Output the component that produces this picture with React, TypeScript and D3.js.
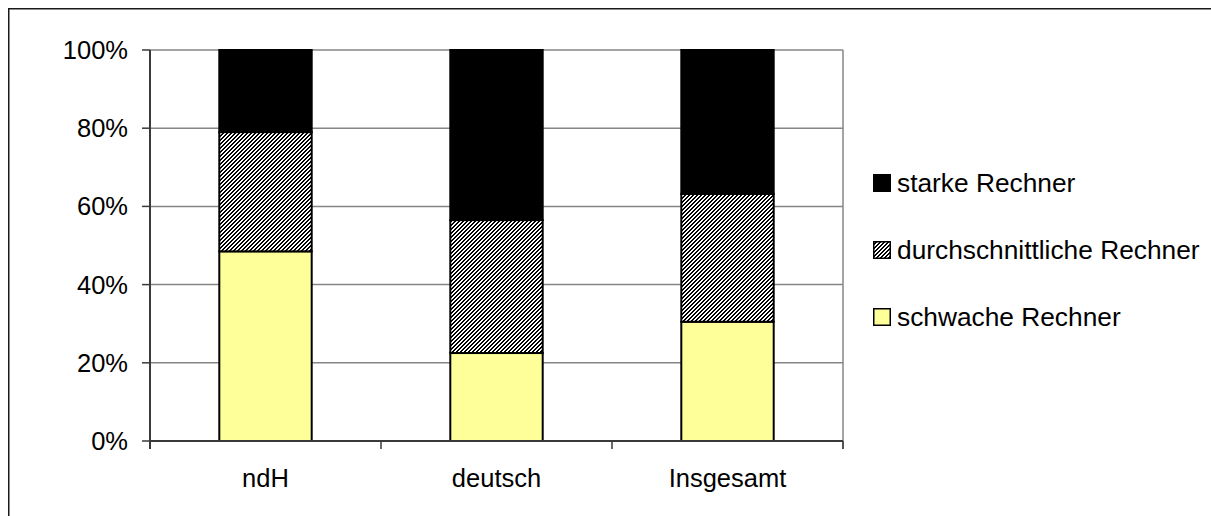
import React from "react";
import * as d3 from "d3";

const categories = ["ndH", "deutsch", "Insgesamt"];
const schwach = [48.5, 22.5, 30.5];
const durchschnitt = [30.5, 34.0, 32.7];
const stark = [21.0, 43.5, 36.8];
const yTicks = [0, 20, 40, 60, 80, 100];
const seriesNames = ["schwache Rechner", "durchschnittliche Rechner", "starke Rechner"];

const W = 1211;
const H = 516;
const FONT = "'Liberation Sans', Arial, sans-serif";

// 4x4 upward-diagonal hatch bitmap
const hatchPixels: [number, number][] = [];
for (let r = 0; r < 4; r++) {
  hatchPixels.push([(3 - r + 4) % 4, r]);
  hatchPixels.push([(4 - r + 4) % 4, r]);
}

export default function App() {
  const left = 150, right = 843, top = 50, bottom = 441;
  const x = d3.scaleBand<string>().domain(categories).range([left, right]).paddingInner(0.6).paddingOuter(0.3);
  const xb = d3.scaleBand<string>().domain(categories).range([left, right]);
  const y = d3.scaleLinear().domain([0, 100]).range([bottom, top]);

  const rows = categories.map((c, i) => ({ cat: c, schwach: schwach[i], durch: durchschnitt[i], stark: stark[i] }));
  const stack = d3.stack<any>().keys(["schwach", "durch", "stark"])(rows);
  const fills = ["#FFFF99", "url(#hatch)", "#000000"];

  const legendOrder = [2, 1, 0];

  return (
    <svg width={W} height={H} style={{ position: "absolute", left: 0, top: 0, display: "block" }}>
      <defs>
        <pattern id="hatch" patternUnits="userSpaceOnUse" width={4} height={4}>
          <rect width={4} height={4} fill="#fff" />
          {hatchPixels.map(([px, py], i) => (
            <rect key={i} x={px} y={py} width={1} height={1} fill="#000" shapeRendering="crispEdges" />
          ))}
        </pattern>
      </defs>
      <rect x={0} y={0} width={W} height={H} fill="#fff" />
      <rect x={8.75} y={8.75} width={W + 20} height={H + 20} fill="none" stroke="#1a1a1a" strokeWidth={1.5} />

      {/* gridlines */}
      {yTicks.map((t) => (
        <line key={"g" + t} x1={left} x2={right} y1={y(t)} y2={y(t)} stroke="#868686" strokeWidth={1.5} />
      ))}
      <line x1={right} x2={right} y1={top} y2={bottom + 8} stroke="#868686" strokeWidth={1.5} />

      {/* bars */}
      {stack.map((s, si) =>
        s.map((d: any, i: number) => (
          <rect
            key={si + "-" + i}
            x={x(categories[i])}
            width={x.bandwidth()}
            y={y(d[1])}
            height={y(d[0]) - y(d[1])}
            fill={fills[si]}
            stroke="#000"
            strokeWidth={2}
          />
        ))
      )}

      {/* axes */}
      <line x1={left} x2={left} y1={top} y2={bottom + 8} stroke="#3a3a3a" strokeWidth={2} />
      <line x1={left} x2={right} y1={bottom} y2={bottom} stroke="#3a3a3a" strokeWidth={2} />
      {yTicks.map((t) => (
        <g key={"yt" + t}>
          <line x1={left - 8} x2={left} y1={y(t)} y2={y(t)} stroke="#3a3a3a" strokeWidth={1.5} />
          <text x={128} y={y(t)} dy="0.35em" textAnchor="end" fontFamily={FONT} fontSize={25.5} fill="#000">
            {t + "%"}
          </text>
        </g>
      ))}
      {categories.map((c, i) => (
        <g key={"xt" + c}>
          <line x1={xb(c)! + xb.bandwidth()} x2={xb(c)! + xb.bandwidth()} y1={bottom} y2={bottom + 8} stroke="#3a3a3a" strokeWidth={1.5} />
          <text x={xb(c)! + xb.bandwidth() / 2} y={487} textAnchor="middle" fontFamily={FONT} fontSize={25.5} fill="#000">
            {c}
          </text>
        </g>
      ))}

      {/* legend */}
      {legendOrder.map((si, k) => (
        <g key={"lg" + si} transform={`translate(873, ${174 + k * 67})`}>
          <rect x={0.75} y={0.75} width={16.5} height={16.5} fill={fills[si]} stroke="#000" strokeWidth={1.5} />
          <text x={24} y={17.5} fontFamily={FONT} fontSize={26.3} fill="#000">
            {seriesNames[si]}
          </text>
        </g>
      ))}
    </svg>
  );
}
